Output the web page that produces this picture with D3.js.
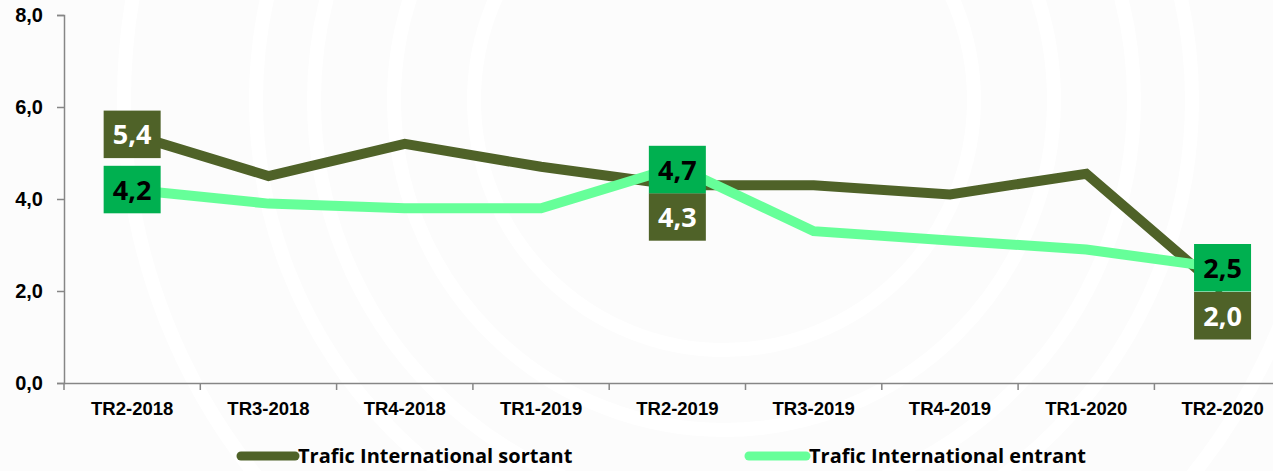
<!DOCTYPE html>
<html>
<head>
<meta charset="utf-8">
<script src="https://cdn.jsdelivr.net/npm/d3@7"></script>
<style>
  body { margin: 0; background: #fcfcfc; }
  svg { display: block; font-family: "Open Sans", Lato, sans-serif; }
</style>
</head>
<body>
<div class="canva"></div>
<script>
const categories = ["TR2-2018", "TR3-2018", "TR4-2018", "TR1-2019", "TR2-2019",
                    "TR3-2019", "TR4-2019", "TR1-2020", "TR2-2020"];
const sortant = [5.4, 4.5, 5.2, 4.7, 4.3, 4.3, 4.1, 4.55, 2.0];
const entrant = [4.2, 3.9, 3.8, 3.8, 4.7, 3.3, 3.1, 2.9, 2.5];
const yTicks = [0, 2, 4, 6, 8];
// which points carry a value label
const sortantLabelIdx = [0, 4, 8];
const entrantLabelIdx = [0, 4, 8];

const width = 1273, height = 471;
const svg = d3.select(".canva").append("svg")
    .attr("width", width)
    .attr("height", height);

svg.append("rect").attr("width", width).attr("height", height).attr("fill", "#fcfcfc");

// faint watermark rings in the background
svg.append("g").selectAll("circle")
    .data([250, 330, 410, 468, 600])
    .enter().append("circle")
    .attr("cx", 724).attr("cy", 100).attr("r", d => d)
    .attr("fill", "none").attr("stroke", "#ffffff").attr("stroke-width", 14);

const x = d3.scaleBand().domain(categories).range([64, 64 + 9 * 136.3]);
const y = d3.scaleLinear().domain([0, 8]).range([383, 15]);
const fmt = d => d3.format(".1f")(d).replace(".", ",");

// y axis
const yAxis = svg.append("g")
    .attr("transform", "translate(64,0)")
    .call(d3.axisLeft(y).tickValues(yTicks).tickFormat(fmt).tickSize(7).tickPadding(14));
yAxis.select(".domain").attr("stroke", "#868686").attr("stroke-width", 1.5);
yAxis.selectAll(".tick line").attr("stroke", "#868686").attr("stroke-width", 1.5);
yAxis.selectAll("text").attr("font-size", 20).attr("font-weight", "bold").attr("fill", "#000");

// x axis
const xAxis = svg.append("g")
    .attr("transform", "translate(0,383)")
    .call(d3.axisBottom(x).tickSize(0).tickPadding(19));
xAxis.select(".domain").attr("stroke", "#868686").attr("stroke-width", 1.5);
xAxis.selectAll("text").attr("font-size", 18.5).attr("font-weight", "bold").attr("fill", "#000");
xAxis.selectAll(".sep")
    .data(categories)
    .enter().append("line")
    .attr("class", "sep")
    .attr("x1", d => x(d)).attr("x2", d => x(d))
    .attr("y1", 0).attr("y2", 7)
    .attr("stroke", "#868686").attr("stroke-width", 1.5);

const line = d3.line()
    .x((d, i) => x(categories[i]) + x.bandwidth() / 2)
    .y(d => y(d));

svg.append("path").datum(sortant)
    .attr("d", line).attr("fill", "none")
    .attr("stroke", "#4F6228").attr("stroke-width", 10);
svg.append("path").datum(entrant)
    .attr("d", line).attr("fill", "none")
    .attr("stroke", "#66FF99").attr("stroke-width", 10);

// label box offsets (px) from the point, as Excel placed them
const sortantShift = {0: 0, 4: 32, 8: 25};
const entrantShift = {0: 0, 4: 3, 8: 0};

function addLabels(series, idx, shift, fill, textColor) {
  const g = svg.append("g").selectAll("g")
      .data(idx)
      .enter().append("g")
      .attr("transform", i => {
        const cx = x(categories[i]) + x.bandwidth() / 2;
        return `translate(${cx},${y(series[i]) + shift[i]})`;
      });
  g.append("rect")
      .attr("x", -28.5).attr("y", -24)
      .attr("width", 57).attr("height", 47.5)
      .attr("fill", fill);
  g.append("text")
      .attr("text-anchor", "middle")
      .attr("dy", "0.36em")
      .attr("font-size", 27)
      .attr("font-weight", "bold")
      .attr("fill", textColor)
      .text(i => fmt(series[i]));
}
addLabels(sortant, sortantLabelIdx, sortantShift, "#4F6228", "#fff");
addLabels(entrant, entrantLabelIdx, entrantShift, "#00B050", "#000");

// legend
const legend = [
  {name: "Trafic International sortant", color: "#4F6228", x: 241, len: 54},
  {name: "Trafic International entrant", color: "#66FF99", x: 749, len: 57}
];
const lg = svg.append("g").selectAll("g")
    .data(legend)
    .enter().append("g")
    .attr("transform", d => `translate(${d.x},456)`);
lg.append("line")
    .attr("x1", 0).attr("x2", d => d.len)
    .attr("stroke", d => d.color).attr("stroke-width", 9)
    .attr("stroke-linecap", "round");
lg.append("text")
    .attr("x", d => d.len + 3).attr("dy", "0.35em")
    .attr("font-size", 20).attr("font-weight", "bold")
    .text(d => d.name);
</script>
</body>
</html>
